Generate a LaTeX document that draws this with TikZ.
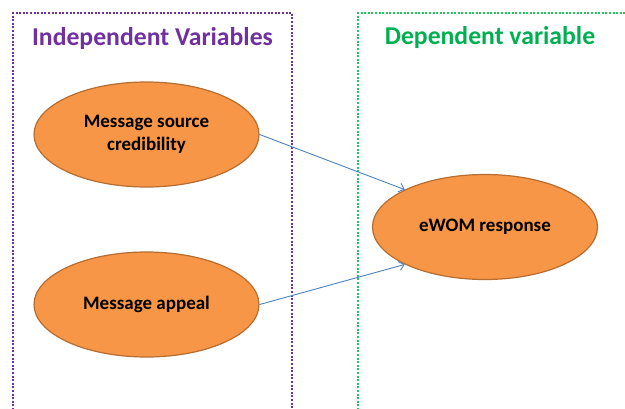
\documentclass[tikz,border=0pt]{standalone}
\usepackage{fontspec}
\setmainfont{Carlito}
\usetikzlibrary{shapes.geometric,arrows.meta}
\definecolor{purp}{HTML}{7030A0}
\definecolor{grn}{HTML}{00B050}
\definecolor{grnline}{HTML}{22C55E}
\definecolor{orfill}{HTML}{F79646}
\definecolor{ordraw}{HTML}{B66D31}
\definecolor{arr}{HTML}{4F81BD}
\tikzset{
  var/.style={ellipse, fill=orfill, draw=ordraw, line width=1.2pt, minimum width=225pt, minimum height=105pt, inner sep=0pt, align=center, font=\fontsize{19}{23}\selectfont\bfseries},
  title/.style={font=\fontsize{25.7}{30}\selectfont\bfseries, anchor=base, inner sep=0pt},
  dotbox/.style={line width=2pt, dash pattern=on 2pt off 1.6pt},
  link/.style={draw=arr, line width=0.9pt, -{Straight Barb[length=5pt,width=9pt]}}
}
\begin{document}
\begin{tikzpicture}[x=1pt,y=-1pt]
\useasboundingbox (0,0) rectangle (625,408);
\draw[dotbox, purp] (13,410) -- (13,13) -- (292,13) -- (292,410);
\draw[dotbox, grnline] (358,410) -- (358,13) -- (630,13);
\node[title, text=purp] (t1) at (152.5,45) {Independent Variables};
\node[title, text=grn] (t2) at (490,44) {Dependent variable};
\node[var] (ms) at (146.5,134.5) {Message source\\credibility};
\node[var] (ma) at (146.5,304.5) {Message appeal};
\node[var] (resp) at (485,227) {eWOM response};
\draw[link] (ms.east) -- (resp.155);
\draw[link] (ma.east) -- (resp.205);
\end{tikzpicture}
\end{document}
